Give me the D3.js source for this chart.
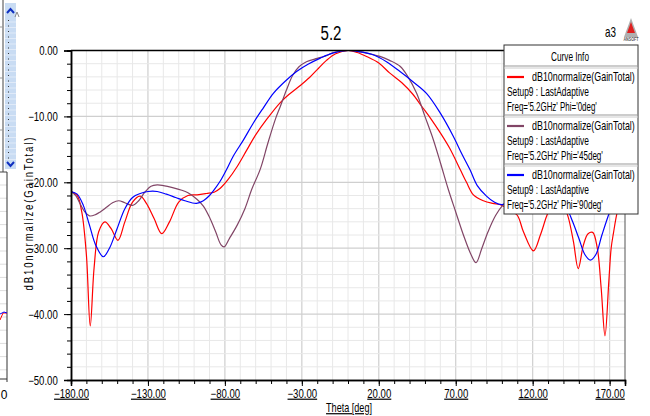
<!DOCTYPE html>
<html><head><meta charset="utf-8">
<script src="https://cdn.jsdelivr.net/npm/d3@7/dist/d3.min.js"></script>
<style>
body{margin:0;background:#fff;}
svg{display:block;font-family:"Liberation Sans",Arial,sans-serif;}
</style>
</head><body>
<svg id="c" width="650" height="416"></svg>
<script>
// ---------- data ----------
const xTickValues = [-180, -130, -80, -30, 20, 70, 120, 170];
const yTickValues = [0, -10, -20, -30, -40, -50];
const chartTitle = "5.2";
const xLabel = "Theta [deg]";
const yLabel = "dB10normalize(GainTotal)";
const legendTitle = "Curve Info";
const legendExpr = "dB10normalize(GainTotal)";
const legendSetup = "Setup9 : LastAdaptive";
const seriesNames = ["Freq='5.2GHz' Phi='0deg'", "Freq='5.2GHz' Phi='45deg'", "Freq='5.2GHz' Phi='90deg'"];
const seriesColors = ["#ff0000", "#814566", "#0000ff"];

const thetaPhi0 = [-180,-176,-173,-170,-167.5,-165,-162,-158,-154,-149.5,-145,-140,-135,-131,-126,-121,-116,-110,-104,-98,-92,-87,-83,-78,-72,-66,-60,-53,-44,-38,-31,-25,-20,-14,-8,0,6,12,20,27,35,42,48,54,60,66,73,77,81.5,88,94,99,104,110,114,120.5,125,129,133,136,140,143,146.5,149.6,153,156,159,162,164.5,167,169.5,171,172.5,175,178,180];
const gainPhi0  = [-21.4,-22.0,-24.5,-31,-41.8,-33,-27.5,-26.0,-27,-28.8,-26,-23,-22.1,-23.2,-25.5,-27.8,-26,-23,-22.0,-21.9,-21.7,-21.5,-20.9,-19.6,-17.6,-15.2,-12.8,-10.5,-7.9,-6.6,-5.3,-4.1,-2.9,-1.5,-0.5,0,-0.3,-0.9,-1.9,-3.4,-4.9,-6.6,-8.5,-10.4,-12.5,-14.8,-18.1,-20,-21.9,-22.8,-23.2,-23.4,-24.0,-25.0,-27.5,-30.4,-28,-25.2,-23,-22.6,-23.5,-25.2,-29,-33.1,-29.5,-27.8,-27.6,-30,-36,-43.3,-35,-30,-27.7,-24.5,-22.3,-21.4];

const thetaPhi45 = [-180,-177,-174,-171,-168,-164,-161,-157,-153,-149,-145,-140,-136,-132,-128,-124,-120,-114,-108,-104,-98,-94,-90,-86,-82.5,-80.5,-77,-72,-67,-62.6,-57,-52,-47,-44,-40,-36,-32,-27,-20,-14,-9.5,0,8,14,20.8,27,33.8,39,44.6,50,55.4,60,65.2,70,75,80,83.2,87,91,96,100.9,106,112,120,130,140,150,160,170,176,180];
const gainPhi45  = [-21.4,-22,-23.3,-24.5,-25.1,-24.9,-24.5,-23.8,-23.1,-22.8,-23.1,-23.5,-22.8,-21.5,-20.6,-20.4,-20.5,-20.8,-21.2,-21.6,-22.6,-23.6,-25.3,-27.5,-29.5,-29.8,-28.5,-26.5,-24,-21.1,-18,-14,-10.3,-8.5,-6,-3.8,-2.5,-1.7,-1.2,-0.8,-0.3,0,-0.2,-0.5,-0.9,-1.5,-2.4,-4,-6.5,-10,-13.5,-17,-21.1,-24.5,-28,-31,-32.2,-30,-27.5,-25,-23.4,-22.3,-21.4,-21,-21.2,-22,-23,-23.5,-22.7,-21.8,-21.4];

const thetaPhi90 = [-180,-176,-172,-168,-164,-159,-155,-150,-145,-140,-135,-130,-124,-118,-112,-106,-98.5,-94,-90,-87.5,-83,-79,-74.5,-68,-61.5,-55,-48.5,-41,-33.4,-26,-18,-10,0,8,16.4,25,33.8,42,51,60,68.4,74,79.3,84,90,95,100,106,112,120,127,134,139,142,146,150,154,157.5,161,165,170.2,174,177,180];
const gainPhi90  = [-21.4,-21.8,-23.5,-26.5,-29.5,-31.3,-30,-27,-24,-22.3,-21.7,-21.4,-21.4,-21.8,-22.3,-22.8,-23.2,-22.8,-22.0,-21.3,-19.8,-18.1,-16.0,-13.6,-11.0,-8.7,-6.5,-4.7,-3.2,-2.1,-1.15,-0.4,0,-0.2,-0.65,-1.7,-3.2,-4.7,-6.5,-9.5,-13.0,-15.7,-18.1,-20.5,-22.1,-23.0,-23.4,-22.7,-22,-21.5,-21.6,-22.5,-23.3,-23.9,-26,-28.5,-31,-31.8,-31,-28,-24.4,-22.3,-21.6,-21.4];

// ---------- layout ----------
const svg = d3.select("#c");
const L = 71, R = 625, T = 50.5, B = 380;
const x = d3.scaleLinear().domain([-180, 180]).range([L, R]);
const y = d3.scaleLinear().domain([-50, 0]).range([B, T]);

// text helper: horizontally compressed text of a given width (narrow look)
function txt(g, px, py, str, size, width, anchor) {
  const gg = g.append("g");
  const t = gg.append("text").attr("x", 0).attr("y", 0).attr("font-size", size)
    .attr("text-anchor", anchor || "start").text(str);
  const nat = t.node().getComputedTextLength() || width;
  gg.attr("transform", `translate(${px},${py}) scale(${width / nat},1)`);
  return t;
}

// left leftover window fragment
const frag = svg.append("g");
frag.append("rect").attr("x", 5).attr("y", 3).attr("width", 11).attr("height", 166).attr("fill", "#c9dcf3");
for (let yy = 20; yy < 160; yy += 5.5) {
  frag.append("rect").attr("x", 8).attr("y", yy).attr("width", 1).attr("height", 1).attr("fill", "#333");
  frag.append("line").attr("x1", 5).attr("x2", 16).attr("y1", yy + 2).attr("y2", yy + 2).attr("stroke", "#e6eef9").attr("stroke-width", 0.8);
}
frag.append("path").attr("d", "M7,13 L10.5,9 L14,13").attr("fill", "none").attr("stroke", "#1030c0").attr("stroke-width", 2);
frag.append("path").attr("d", "M7,162 L10.5,166 L14,162").attr("fill", "none").attr("stroke", "#1030c0").attr("stroke-width", 2);
frag.append("line").attr("x1", 3).attr("x2", 3).attr("y1", 0).attr("y2", 172).attr("stroke", "#444");
frag.append("line").attr("x1", 0).attr("x2", 7).attr("y1", 172).attr("y2", 172).attr("stroke", "#444");
[27, 78, 130].forEach(v => frag.append("line").attr("x1", 0).attr("x2", 3).attr("y1", v).attr("y2", v).attr("stroke", "#999"));
frag.append("path").attr("d", "M15,17 L17,12 L19,17").attr("fill", "none").attr("stroke", "#888");
for (let yy = 185; yy < 379; yy += 13.2) frag.append("line").attr("x1", 0).attr("x2", 7).attr("y1", yy).attr("y2", yy).attr("stroke", "#ddd");
frag.append("line").attr("x1", 7).attr("x2", 7).attr("y1", 172).attr("y2", 382).attr("stroke", "#333");
frag.append("line").attr("x1", 0).attr("x2", 7).attr("y1", 379).attr("y2", 379).attr("stroke", "#333");
frag.append("path").attr("d", "M0,320 L3,313 L7,313").attr("fill", "none").attr("stroke", "#ff0000");
frag.append("path").attr("d", "M0,314 L4,312 L7,313").attr("fill", "none").attr("stroke", "#0000ff");
frag.append("text").attr("x", 4).attr("y", 399).attr("font-size", 12).attr("text-anchor", "middle").text("0");

// grid
const grid = svg.append("g");
d3.range(-170, 180, 10).forEach(v => {
  const major = xTickValues.includes(v);
  grid.append("line").attr("x1", x(v)).attr("x2", x(v)).attr("y1", T).attr("y2", B)
    .attr("stroke", major ? "#cfcfcf" : "#e8e8e8").attr("stroke-width", major ? 1.2 : 1);
});
d3.range(-48, 0, 2).forEach(v => {
  const major = v % 10 === 0;
  grid.append("line").attr("x1", L).attr("x2", R).attr("y1", y(v)).attr("y2", y(v))
    .attr("stroke", major ? "#cfcfcf" : "#e8e8e8").attr("stroke-width", major ? 1.2 : 1);
});

// curves
svg.append("clipPath").attr("id", "clip").append("rect").attr("x", L).attr("y", T - 2).attr("width", R - L).attr("height", B - T + 2);
const line = d3.line().x(d => x(d[0])).y(d => y(d[1])).curve(d3.curveCatmullRom.alpha(0.5));
const series = [[thetaPhi0, gainPhi0], [thetaPhi45, gainPhi45], [thetaPhi90, gainPhi90]];
const cg = svg.append("g").attr("clip-path", "url(#clip)");
series.forEach((s, i) => {
  const pts = s[0].map((t, k) => [t, s[1][k]]);
  cg.append("path").attr("d", line(pts)).attr("fill", "none").attr("stroke", seriesColors[i]).attr("stroke-width", 1.2);
});

// frame
svg.append("line").attr("x1", L).attr("x2", R).attr("y1", T).attr("y2", T).attr("stroke", "#000").attr("stroke-width", 1.5);
svg.append("line").attr("x1", R).attr("x2", R).attr("y1", T).attr("y2", B).attr("stroke", "#555");

// axes
const fmt = d3.format(".2f");
const yMinor = svg.append("g").attr("transform", `translate(${L},0)`)
  .call(d3.axisLeft(y).tickValues(d3.range(-50, 1, 2)).tickSize(4).tickFormat(""));
const yMajor = svg.append("g").attr("transform", `translate(${L},0)`)
  .call(d3.axisLeft(y).tickValues(yTickValues).tickSize(7).tickPadding(6).tickFormat(fmt));
const xMinor = svg.append("g").attr("transform", `translate(0,${B})`)
  .call(d3.axisBottom(x).tickValues(d3.range(-180, 181, 10)).tickSize(4).tickFormat(""));
const xMajor = svg.append("g").attr("transform", `translate(0,${B})`)
  .call(d3.axisBottom(x).tickValues(xTickValues).tickSize(6).tickPadding(3).tickFormat(fmt));
[yMinor, yMajor, xMinor, xMajor].forEach(g => {
  g.attr("font-family", null);
  g.select(".domain").attr("stroke", "#000").attr("stroke-width", 1.5);
  g.selectAll(".tick line").attr("stroke", "#000");
  g.selectAll("text").attr("font-size", 12).attr("fill", "#000");
});
yMajor.selectAll(".tick text").attr("dy", "0.35em").attr("x", -16.5).attr("transform", "scale(0.8,1)");
xMajor.selectAll(".tick text").attr("text-decoration", "underline").attr("transform", "scale(0.8,1)");

// labels
txt(svg, 331, 40, chartTitle, 21, 21, "middle");
txt(svg, 349, 412, xLabel, 12, 46, "middle").attr("text-decoration", "underline");
svg.append("text").attr("transform", "translate(33,214) rotate(-90) scale(0.8,1)").attr("text-anchor", "middle")
  .attr("font-size", 12).attr("textLength", 191).attr("lengthAdjust", "spacing").text(yLabel);
txt(svg, 605, 37, "a3", 14, 11);
// logo
const logo = svg.append("g");
logo.append("path").attr("d", "M631,18 L624,37 L638,37 Z").attr("fill", "#b0b0b0");
logo.append("path").attr("d", "M631,22 L627,33 L635,33 Z").attr("fill", "#e02020");
txt(logo, 631, 41, "ANSOFT", 5, 15, "middle").attr("font-weight", "bold").attr("fill", "#555");

// legend
const lg = svg.append("g");
const LX = 504, LY = 45, LW = 134;
lg.append("rect").attr("x", LX).attr("y", LY).attr("width", LW).attr("height", 169).attr("fill", "#fff").attr("stroke", "#333");
txt(lg, 570, 61, legendTitle, 12, 38, "middle");
const rowTops = [67, 116, 165];
const nameWidths = [90, 96, 96];
rowTops.forEach((ry, i) => {
  lg.append("line").attr("x1", LX).attr("x2", LX + LW).attr("y1", ry - 1).attr("y2", ry - 1).attr("stroke", "#999");
  lg.append("line").attr("x1", LX).attr("x2", LX + LW).attr("y1", ry + 1).attr("y2", ry + 1).attr("stroke", "#ccc");
  lg.append("line").attr("x1", 507).attr("x2", 524).attr("y1", ry + 10).attr("y2", ry + 10).attr("stroke", seriesColors[i]).attr("stroke-width", 2.2);
  txt(lg, 532, ry + 14, legendExpr, 12, 103);
  txt(lg, 507, ry + 29, legendSetup, 12, 82);
  txt(lg, 507, ry + 44, seriesNames[i], 12, nameWidths[i]);
});
</script>
</body></html>
